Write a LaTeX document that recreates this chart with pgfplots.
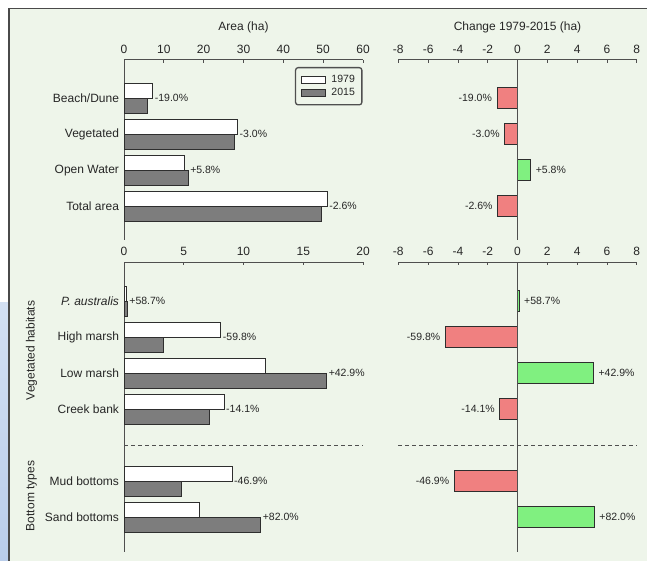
\documentclass[border=0pt]{standalone}
\usepackage{fontspec}
\setmainfont{Liberation Sans}
\usepackage{pgfplots}
\usepackage{pgfplotstable}
\pgfplotsset{compat=1.18}

\definecolor{bg}{HTML}{EEF5EA}
\definecolor{framec}{HTML}{4A4A4A}
\definecolor{ax}{HTML}{4F4F4F}
\definecolor{txt}{HTML}{262626}
\definecolor{new}{HTML}{7D7D7D}
\definecolor{loss}{HTML}{F08080}
\definecolor{gain}{HTML}{80F080}
\definecolor{edge}{HTML}{2E2E2E}
\definecolor{slideA}{HTML}{D3E0F3}
\definecolor{slideB}{HTML}{B9CDEA}

% Land cover classes (ha); pos = row on the chart
\pgfplotstableread{
pos y1979 y2015 change
0  7.20  5.83 -1.37
-1 28.50 27.65 -0.85
-2 15.20 16.08 0.88
-3 51.00 49.67 -1.33
}\landcover

% Habitat and bottom types (ha)
\pgfplotstableread{
pos y1979 y2015 change
0  0.17  0.27  0.10
-1 8.10  3.26 -4.84
-2 11.86 16.95 5.09
-3 8.37  7.19 -1.18
-5 9.04  4.80 -4.24
-6 6.28 11.43  5.15
}\habitats

\tikzset{pct/.style={font=\fontsize{10.5}{12}\selectfont, text=txt, inner sep=1pt}}

\pgfplotsset{
  panel/.style={
    scale only axis,
    xbar,
    clip=false,
    axis x line=top,
    axis y line=left,
    axis line style={draw=ax, line width=1pt, -},
    tick align=inside,
    major tick length=3pt,
    xtick style={draw=ax, line width=0.8pt},
    ytick style={draw=none},
    font=\fontsize{12}{14}\selectfont,
    tick label style={text=txt, font=\fontsize{12}{14}\selectfont},
    xticklabel style={anchor=center, yshift=10.5pt},
    yticklabel style={xshift=-1.5pt},
    /pgf/number format/assume math mode=true,
    xlabel style={at={(axis description cs:0.5,1)}, anchor=center, yshift=33pt, text=txt},
  },
}

\begin{document}
\begin{tikzpicture}
\path[use as bounding box] (0pt,0pt) rectangle (647pt,561pt);
\fill[white] (0pt,0pt) rectangle (647pt,561pt);
\shade[top color=slideA, bottom color=slideB] (0pt,0pt) rectangle (9pt,258pt);
\fill[bg] (9pt,0pt) rectangle (647pt,552.5pt);
\draw[framec, line width=1.5pt] (8.75pt,0pt) -- (8.75pt,552.5pt) -- (647pt,552.5pt);

% ---------- land cover: areas ----------
\begin{axis}[panel, at={(124pt,321pt)}, anchor=south west,
  width=239pt, height=180pt,
  xmin=0, xmax=60, xtick={0,10,...,60},
  ymin=-3.94, ymax=1.06,
  ytick={0,-1,-2,-3},
  yticklabels={Beach/Dune,Vegetated,Open Water,Total area},
  bar width=15pt,
  xlabel={Area (ha)},
  legend style={at={(axis description cs:1,1)}, anchor=north east,
    xshift=-0.5pt, yshift=-7pt, draw=ax, line width=1.3pt, rounded corners=2.5pt,
    fill=none, font=\fontsize{10.5}{11}\selectfont,
    inner xsep=5.5pt, inner ysep=6pt, row sep=1.5pt,
    nodes={text=txt, inner sep=1.5pt},
    /tikz/every odd column/.append style={column sep=4pt}},
  legend cell align=left,
  legend image code/.code={\draw[#1, line width=0.9pt, rounded corners=0pt] (0pt,-3.5pt) rectangle (24pt,3.5pt);},
]
\addplot[bar shift=7.5pt, fill=white, draw=edge, line width=0.9pt] table[x=y1979, y=pos]{\landcover};
\addplot[bar shift=-7.5pt, fill=new, draw=edge, line width=0.9pt] table[x=y2015, y=pos]{\landcover};
\legend{1979,2015}
\node[pct, anchor=west, xshift=1pt] at (axis cs:7.20,0) {-19.0\%};
\node[pct, anchor=west, xshift=1pt] at (axis cs:28.50,-1) {-3.0\%};
\node[pct, anchor=west, xshift=1pt] at (axis cs:16.08,-2) {+5.8\%};
\node[pct, anchor=west, xshift=1pt] at (axis cs:51.00,-3) {-2.6\%};
\end{axis}

% ---------- land cover: change ----------
\begin{axis}[panel, at={(398.3pt,321pt)}, anchor=south west,
  width=238.4pt, height=180pt,
  xmin=-8, xmax=8, xtick={-8,-6,...,8},
  ymin=-3.94, ymax=1.06,
  axis y line=none,
  bar width=21pt,
  xlabel={Change 1979-2015 (ha)},
]
\addplot[bar shift=0pt, fill=loss, draw=edge, line width=0.9pt, restrict x to domain=-100:0] table[x=change, y=pos]{\landcover};
\addplot[bar shift=0pt, fill=gain, draw=edge, line width=0.9pt, restrict x to domain=0:100] table[x=change, y=pos]{\landcover};
\draw[ax, line width=1pt] (axis cs:0,1.06) -- (axis cs:0,-3.94);
\node[pct, anchor=east, xshift=-4pt] at (axis cs:-1.37,0) {-19.0\%};
\node[pct, anchor=east, xshift=-4pt] at (axis cs:-0.85,-1) {-3.0\%};
\node[pct, anchor=west, xshift=4pt] at (axis cs:0.88,-2) {+5.8\%};
\node[pct, anchor=east, xshift=-4pt] at (axis cs:-1.33,-3) {-2.6\%};
\end{axis}

% ---------- habitats: areas ----------
\begin{axis}[panel, at={(124pt,9pt)}, anchor=south west,
  width=239pt, height=289.8pt,
  xmin=0, xmax=20, xtick={0,5,...,20},
  ymin=-6.97, ymax=1.08,
  ytick={0,-1,-2,-3,-5,-6},
  yticklabels={\textit{P. australis},High marsh,Low marsh,Creek bank,Mud bottoms,Sand bottoms},
  bar width=15pt,
]
\addplot[bar shift=7.5pt, fill=white, draw=edge, line width=0.9pt] table[x=y1979, y=pos]{\habitats};
\addplot[bar shift=-7.5pt, fill=new, draw=edge, line width=0.9pt] table[x=y2015, y=pos]{\habitats};
\draw[ax, line width=1pt, dash pattern=on 4pt off 3pt] (axis cs:0,-4) -- (axis cs:20,-4);
\node[pct, anchor=west, xshift=1pt] at (axis cs:0.27,0) {+58.7\%};
\node[pct, anchor=west, xshift=1pt] at (axis cs:8.10,-1) {-59.8\%};
\node[pct, anchor=west, xshift=1pt] at (axis cs:16.95,-2) {+42.9\%};
\node[pct, anchor=west, xshift=1pt] at (axis cs:8.37,-3) {-14.1\%};
\node[pct, anchor=west, xshift=1pt] at (axis cs:9.04,-5) {-46.9\%};
\node[pct, anchor=west, xshift=1pt] at (axis cs:11.43,-6) {+82.0\%};
\end{axis}

% ---------- habitats: change ----------
\begin{axis}[panel, at={(398.3pt,9pt)}, anchor=south west,
  width=238.4pt, height=289.8pt,
  xmin=-8, xmax=8, xtick={-8,-6,...,8},
  ymin=-6.97, ymax=1.08,
  axis y line=none,
  bar width=21pt,
]
\addplot[bar shift=0pt, fill=loss, draw=edge, line width=0.9pt, restrict x to domain=-100:0] table[x=change, y=pos]{\habitats};
\addplot[bar shift=0pt, fill=gain, draw=edge, line width=0.9pt, restrict x to domain=0:100] table[x=change, y=pos]{\habitats};
\draw[ax, line width=1pt] (axis cs:0,1.08) -- (axis cs:0,-6.97);
\draw[ax, line width=1pt, dash pattern=on 4pt off 3pt] (axis cs:-8,-4) -- (axis cs:8,-4);
\node[pct, anchor=west, xshift=4pt] at (axis cs:0.10,0) {+58.7\%};
\node[pct, anchor=east, xshift=-4pt] at (axis cs:-4.84,-1) {-59.8\%};
\node[pct, anchor=west, xshift=4pt] at (axis cs:5.09,-2) {+42.9\%};
\node[pct, anchor=east, xshift=-4pt] at (axis cs:-1.18,-3) {-14.1\%};
\node[pct, anchor=east, xshift=-4pt] at (axis cs:-4.24,-5) {-46.9\%};
\node[pct, anchor=west, xshift=4pt] at (axis cs:5.15,-6) {+82.0\%};
\end{axis}

% group labels
\node[rotate=90, text=txt, font=\fontsize{12}{14}\selectfont] at (31.5pt,210.5pt) {Vegetated habitats};
\node[rotate=90, text=txt, font=\fontsize{12}{14}\selectfont] at (31.5pt,65pt) {Bottom types};
\end{tikzpicture}
\end{document}
